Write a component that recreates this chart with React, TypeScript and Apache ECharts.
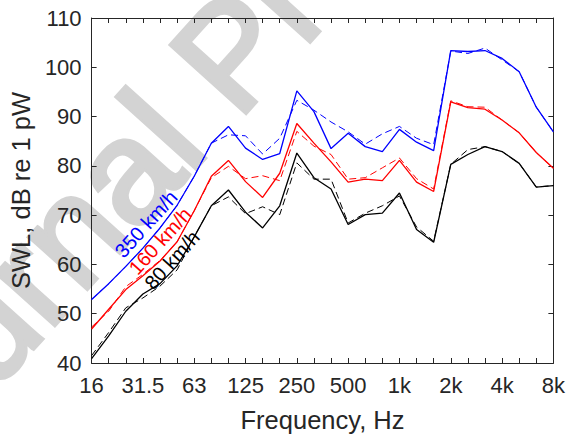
import React, { useEffect, useRef } from "react";
import * as echarts from "echarts";

const bands = ["16", "20", "25", "31.5", "40", "50", "63", "80", "100", "125", "160", "200", "250", "315", "400", "500", "630", "800", "1k", "1.25k", "1.6k", "2k", "2.5k", "3.15k", "4k", "5k", "6.3k", "8k"];
const octaveLabels = ["16", "31.5", "63", "125", "250", "500", "1k", "2k", "4k", "8k"];

const blueSolid = [52.9, 56.1, 59.6, 63.3, 67.4, 72.0, 77.9, 84.6, 88.0, 83.6, 81.3, 82.5, 95.2, 91.0, 83.5, 86.6, 83.9, 82.9, 87.4, 84.8, 83.1, 103.4, 103.2, 103.4, 101.8, 99.1, 91.9, 86.9];
const blueDashed = [52.9, 56.1, 59.6, 63.3, 67.4, 72.0, 77.9, 84.6, 86.3, 86.1, 82.4, 85.6, 93.3, 91.3, 88.9, 86.9, 84.4, 86.5, 88.0, 85.6, 84.3, 103.3, 102.8, 103.9, 101.5, 99.1, 91.9, 86.9];
const redSolid = [46.9, 50.9, 54.9, 57.7, 60.7, 64.6, 70.9, 77.9, 81.1, 76.8, 73.6, 78.5, 88.6, 84.6, 80.8, 76.7, 77.3, 77.0, 81.1, 76.7, 74.8, 93.0, 91.8, 91.5, 89.3, 86.7, 82.7, 79.5];
const redDashed = [47.3, 50.5, 55.5, 58.0, 60.8, 64.6, 70.9, 77.6, 79.9, 77.4, 78.0, 77.0, 87.0, 84.0, 82.3, 77.3, 77.6, 79.6, 81.6, 77.4, 75.3, 93.2, 92.0, 91.9, 89.3, 86.7, 82.7, 79.5];
const blackSolid = [40.9, 45.5, 50.5, 54.0, 56.1, 59.7, 65.6, 71.9, 75.1, 70.6, 67.4, 71.9, 82.6, 77.6, 75.3, 68.1, 70.1, 70.4, 74.5, 67.1, 64.5, 80.3, 82.3, 83.9, 82.9, 80.5, 75.7, 76.0];
const blackDashed = [41.5, 46.2, 51.2, 53.2, 55.6, 58.9, 65.6, 71.9, 73.7, 70.3, 71.7, 70.1, 80.6, 77.3, 77.3, 68.4, 70.4, 71.9, 73.9, 67.6, 64.7, 80.3, 83.3, 83.9, 82.9, 80.5, 75.7, 76.0];

const speedLabels = ["350 km/h", "160 km/h", "80 km/h"];
const speedColors = ["#0000ff", "#ff0000", "#000000"];

const FONT = '"Liberation Sans", Arial, Helvetica, sans-serif';
const AX = "#262626";

export default function App() {
  const ref = useRef<HTMLDivElement>(null);
  useEffect(() => {
    document.body.style.margin = "0";
    const chart = echarts.init(ref.current!, null, { renderer: "svg" });
    const deg = Math.PI / 180;
    const line = (data: number[], color: string, dashed: boolean, z: number) => ({
      type: "line",
      data,
      xAxisIndex: 0,
      yAxisIndex: 0,
      symbol: "none",
      showSymbol: false,
      z,
      lineStyle: dashed
        ? { color, width: 1, type: [7, 4] }
        : { color, width: 1.3, type: "solid" },
    });
    const labelPos = [
      [146, 224],
      [160, 241],
      [172, 260],
    ];
    chart.setOption({
      animation: false,
      grid: { left: 91, right: 14, top: 18, bottom: 70, containLabel: false },
      xAxis: [
        {
          type: "category",
          data: bands,
          boundaryGap: false,
          position: "bottom",
          axisLine: { show: true, onZero: false, lineStyle: { color: AX, width: 1 } },
          axisTick: { show: true, inside: true, length: 5, interval: 0, lineStyle: { color: AX } },
          axisLabel: {
            interval: (i: number) => i % 3 === 0,
            formatter: (v: string) => (octaveLabels.includes(v) ? v : ""),
            fontSize: 22,
            color: AX,
            fontFamily: FONT,
            margin: 11,
          },
          splitLine: { show: false },
          name: "Frequency, Hz",
          nameLocation: "middle",
          nameGap: 44,
          nameTextStyle: { fontSize: 25.5, color: AX, fontFamily: FONT },
        },
        {
          type: "category",
          data: bands,
          boundaryGap: false,
          position: "top",
          axisLine: { show: true, onZero: false, lineStyle: { color: AX, width: 1 } },
          axisTick: { show: true, inside: true, length: 5, interval: 0, lineStyle: { color: AX } },
          axisLabel: { show: false },
          splitLine: { show: false },
        },
      ],
      yAxis: [
        {
          type: "value",
          min: 40,
          max: 110,
          interval: 10,
          position: "left",
          axisLine: { show: true, onZero: false, lineStyle: { color: AX, width: 1 } },
          axisTick: { show: true, inside: true, length: 5, lineStyle: { color: AX } },
          axisLabel: { fontSize: 22, color: AX, fontFamily: FONT, margin: 10 },
          splitLine: { show: false },
          name: "SWL, dB re 1 pW",
          nameLocation: "middle",
          nameGap: 53,
          nameTextStyle: { fontSize: 25.5, color: AX, fontFamily: FONT },
        },
        {
          type: "value",
          min: 40,
          max: 110,
          interval: 10,
          position: "right",
          axisLine: { show: true, onZero: false, lineStyle: { color: AX, width: 1 } },
          axisTick: { show: true, inside: true, length: 5, lineStyle: { color: AX } },
          axisLabel: { show: false },
          splitLine: { show: false },
        },
      ],
      graphic: {
        elements: [
          {
            type: "text",
            z: -10,
            silent: true,
            x: -147,
            y: 473,
            rotation: 48 * deg,
            style: {
              text: "Journal Pre-proof",
              fill: "#d3d3d3",
              stroke: "#d3d3d3",
              lineWidth: 5,
              fontSize: 146,
              fontFamily: FONT,
              align: "left",
              textAlign: "left",
              verticalAlign: "middle",
              textVerticalAlign: "middle",
            },
          },
          ...speedLabels.map((t, i) => ({
            type: "text",
            z: 100,
            x: labelPos[i][0],
            y: labelPos[i][1],
            rotation: 48 * deg,
            style: {
              text: t,
              fill: speedColors[i],
              fontSize: 20,
              fontFamily: FONT,
              align: "center",
              textAlign: "center",
              verticalAlign: "middle",
              textVerticalAlign: "middle",
            },
          })),
        ],
      },
      series: [
        line(blueDashed, "#0000ff", true, 2),
        line(redDashed, "#ff0000", true, 2),
        line(blackDashed, "#000000", true, 2),
        line(blueSolid, "#0000ff", false, 3),
        line(redSolid, "#ff0000", false, 3),
        line(blackSolid, "#000000", false, 3),
      ],
    });
    return () => chart.dispose();
  }, []);
  return <div ref={ref} style={{ width: 568, height: 438 }} />;
}
